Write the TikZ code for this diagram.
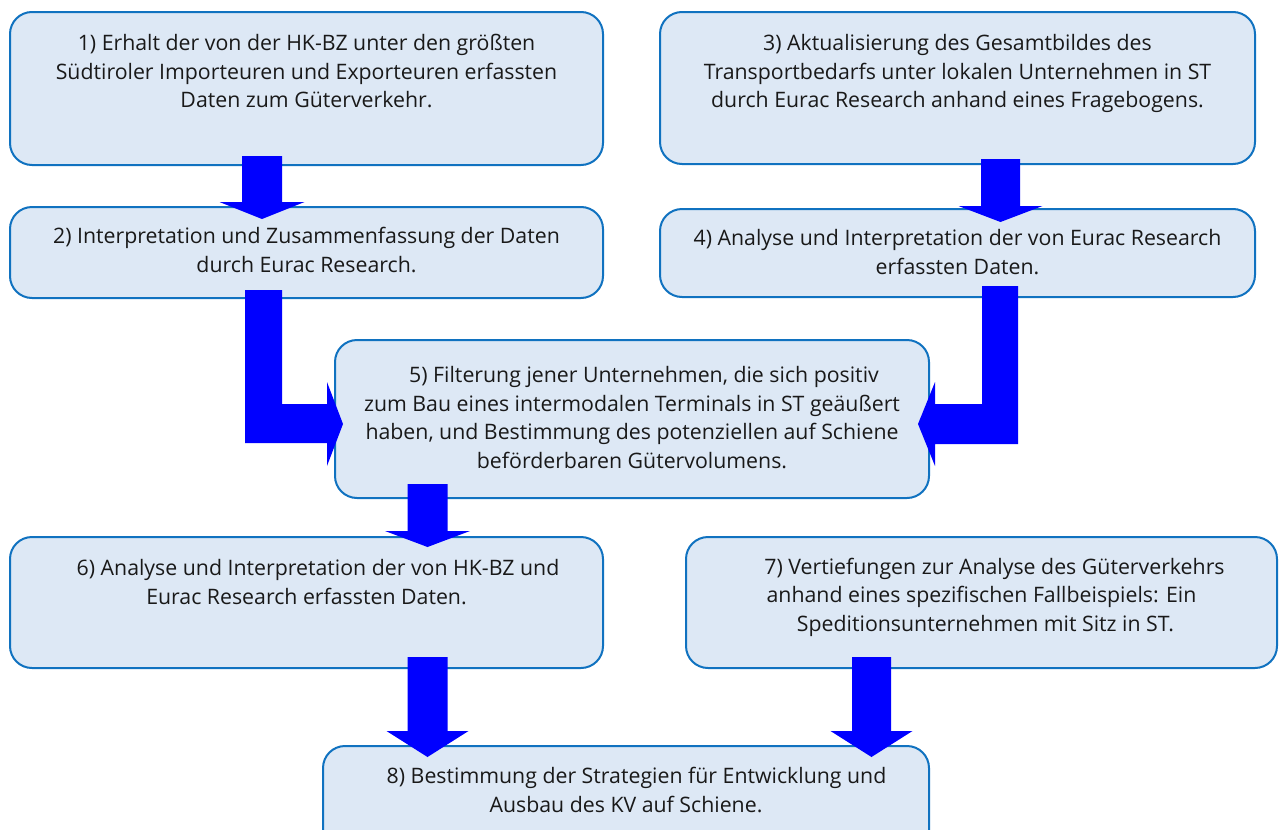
\documentclass[tikz,border=0pt]{standalone}
\usepackage{fontspec}
\setmainfont{Open Sans}
\usetikzlibrary{calc}
\definecolor{boxfill}{RGB}{221,232,245}
\definecolor{boxline}{RGB}{16,114,192}
\definecolor{arrowblue}{RGB}{0,0,255}
\definecolor{txtcol}{RGB}{25,25,25}
% down block arrow: start coord, tip coord, head length, shaft half width, head half width
\newcommand\blkdown[5]{%
  \fill[arrowblue] let \p1=(#1), \p2=(#2) in
    (\x1-#4pt,\y1) -- (\x1+#4pt,\y1) -- (\x1+#4pt,\y2+#3pt) -- (\x1+#5pt,\y2+#3pt)
    -- (\x2,\y2) -- (\x1-#5pt,\y2+#3pt) -- (\x1-#4pt,\y2+#3pt) -- cycle;}
\begin{document}
\begin{tikzpicture}[x=1pt,y=-1pt,
  stepbox/.style={draw=boxline, fill=boxfill, line width=2pt, rounded corners=22pt,
    inner sep=0pt, outer sep=0pt, anchor=north west, rectangle},
  steptext/.style={anchor=north, inner sep=0pt, outer sep=0pt, align=center,
    text=txtcol, font=\fontsize{21.3}{28.5}\selectfont}]
\useasboundingbox (0,0) rectangle (1280,830);
\clip (0,0) rectangle (1280,830);

% boxes
\node[stepbox, minimum width=593pt, minimum height=153pt] (b1) at (10,12) {};
\node[stepbox, minimum width=593pt, minimum height=91pt]  (b2) at (10,207) {};
\node[stepbox, minimum width=595pt, minimum height=152pt] (b3) at (660,12) {};
\node[stepbox, minimum width=595pt, minimum height=88pt]  (b4) at (660,209) {};
\node[stepbox, minimum width=594pt, minimum height=158pt] (b5) at (335,340) {};
\node[stepbox, minimum width=593pt, minimum height=131pt] (b6) at (10,537) {};
\node[stepbox, minimum width=591pt, minimum height=131pt] (b7) at (686,537) {};
\node[stepbox, minimum width=606pt, minimum height=120pt] (b8) at (323,746) {};

% texts
\node[steptext] (t1) at (306.5,30.75) {\strut 1) Erhalt der von der HK-BZ unter den größten\\
  \strut Südtiroler Importeuren und Exporteuren erfassten\\ \strut Daten zum Güterverkehr.};
\node[steptext] (t2) at (306.5,223.75) {\strut 2) Interpretation und Zusammenfassung der Daten\\
  \strut durch Eurac Research.};
\node[steptext] (t3) at (957.5,30.75) {\strut 3) Aktualisierung des Gesamtbildes des\\
  \strut Transportbedarfs unter lokalen Unternehmen in ST\\
  \strut durch Eurac Research anhand eines Fragebogens.};
\node[steptext] (t4) at (957.5,225.75) {\strut 4) Analyse und Interpretation der von Eurac Research\\
  \strut erfassten Daten.};
\node[steptext] (t5) at (632,362.75) {\strut\hspace*{24pt}5) Filterung jener Unternehmen, die sich positiv\\
  \strut zum Bau eines intermodalen Terminals in ST geäußert\\
  \strut haben, und Bestimmung des potenziellen auf Schiene\\
  \strut beförderbaren Gütervolumens.};
\node[steptext] (t6) at (306.5,555.75) {\strut\hspace*{23pt}6) Analyse und Interpretation der von HK-BZ und\\
  \strut Eurac Research erfassten Daten.};
\node[steptext] (t7) at (981.5,554.25) {\strut\hspace*{26pt}7) Vertiefungen zur Analyse des Güterverkehrs\\
  \strut anhand eines spezifischen Fallbeispiels: Ein\\
  \strut\hspace*{8pt}Speditionsunternehmen mit Sitz in ST.};
\node[steptext] (t8) at (626,763.75) {\strut\hspace*{21pt}8) Bestimmung der Strategien für Entwicklung und\\
  \strut Ausbau des KV auf Schiene.};

% arrow end points
\coordinate (a1s) at (262,156);  \coordinate (a1e) at (262,219);
\coordinate (a3s) at (1000.5,159); \coordinate (a3e) at (1000.5,222);
\coordinate (a5s) at (427.5,484); \coordinate (a5e) at (427.5,547);
\coordinate (a6s) at (427.5,657); \coordinate (a6e) at (427.5,757);
\coordinate (a7s) at (871.5,657); \coordinate (a7e) at (871.5,757);

% straight block arrows
\blkdown{a1s}{a1e}{17}{20}{42.5}
\blkdown{a3s}{a3e}{16}{19.5}{42}
\blkdown{a5s}{a5e}{16}{20}{42.5}
\blkdown{a6s}{a6e}{26}{20}{41}
\blkdown{a7s}{a7e}{26}{19.5}{41}

% bent block arrows (2 -> 5 and 4 -> 5)
\fill[arrowblue] (245,290) -- (282,290) -- (282,404) -- (327,404) -- (327,382)
  -- (343,424) -- (327,466) -- (327,443) -- (245,443) -- cycle;
\fill[arrowblue] (1018,286) -- (982,286) -- (982,404) -- (935,404) -- (935,382)
  -- (918,424) -- (935,466) -- (935,444) -- (1018,444) -- cycle;
\end{tikzpicture}
\end{document}
